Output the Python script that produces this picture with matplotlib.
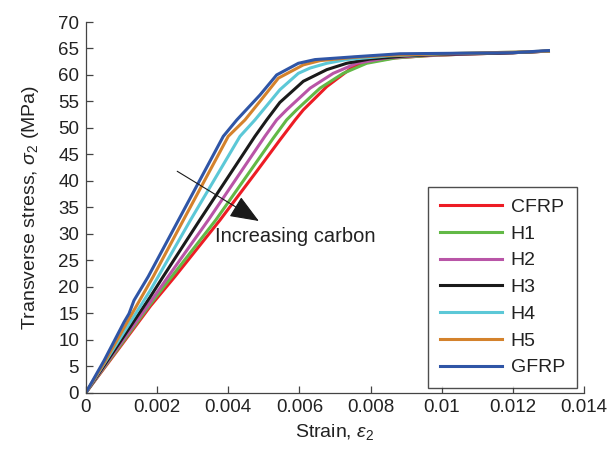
import numpy as np
import matplotlib
matplotlib.use('Agg')
import matplotlib.pyplot as plt

plt.rcParams['font.family'] = ['Liberation Sans', 'DejaVu Sans']
plt.rcParams['mathtext.fontset'] = 'custom'
plt.rcParams['mathtext.rm'] = 'Liberation Sans'
plt.rcParams['mathtext.it'] = 'Liberation Sans:italic'

# Transverse stress-strain curves, strain (-) vs stress (MPa)
cfrp_strain = [0, 0.00088, 0.00182, 0.0025, 0.00377, 0.0048, 0.00545, 0.00588, 0.00611, 0.00677, 0.00752, 0.00798, 0.00864, 0.0095, 0.0105, 0.012, 0.013]
cfrp_stress = [0, 7.9, 16.4, 21.9, 32.6, 41.8, 47.7, 51.5, 53.4, 57.8, 61.6, 62.5, 63.2, 63.6, 63.9, 64.2, 64.5]

h1_strain = [0, 0.0009, 0.0018, 0.00241, 0.00365, 0.00527, 0.00564, 0.00592, 0.00658, 0.00723, 0.00789, 0.0087, 0.0097, 0.011, 0.012, 0.013]
h1_stress = [0, 8.3, 16.6, 21.9, 32.6, 48.1, 51.5, 53.4, 57.5, 60.3, 62.2, 63.2, 63.7, 64.0, 64.2, 64.5]

h2_strain = [0, 0.0009, 0.0018, 0.00231, 0.00344, 0.00503, 0.00536, 0.00564, 0.0063, 0.00695, 0.00761, 0.00845, 0.0095, 0.011, 0.012, 0.013]
h2_stress = [0, 8.6, 17.0, 21.9, 32.6, 48.4, 51.5, 53.4, 57.5, 60.3, 62.2, 63.2, 63.7, 64.0, 64.2, 64.5]

h3_strain = [0, 0.0009, 0.0018, 0.00217, 0.0032, 0.00475, 0.00508, 0.00545, 0.00611, 0.00677, 0.00733, 0.00798, 0.009, 0.010, 0.012, 0.013]
h3_stress = [0, 9.0, 18.0, 21.9, 32.6, 48.4, 51.5, 54.8, 58.8, 61.0, 62.2, 63.0, 63.6, 63.9, 64.2, 64.5]

h4_strain = [0, 0.0009, 0.0018, 0.00203, 0.00294, 0.00433, 0.00475, 0.00545, 0.00597, 0.0063, 0.00677, 0.00733, 0.0085, 0.010, 0.012, 0.013]
h4_stress = [0, 9.6, 19.2, 21.9, 32.6, 48.4, 51.5, 57.2, 60.3, 61.3, 62.2, 62.9, 63.6, 64.0, 64.3, 64.5]

h5_strain = [0, 0.0005, 0.0011, 0.00189, 0.00274, 0.004, 0.00447, 0.00489, 0.00541, 0.00611, 0.00658, 0.0075, 0.0085, 0.010, 0.012, 0.013]
h5_stress = [0, 5.5, 12.6, 21.9, 32.6, 48.4, 51.5, 55.0, 59.4, 61.9, 62.7, 63.3, 63.7, 64.0, 64.3, 64.5]

gfrp_strain = [0, 0.00051, 0.00107, 0.00121, 0.00135, 0.00175, 0.00386, 0.00424, 0.00489, 0.00536, 0.00597, 0.00644, 0.0077, 0.00883, 0.0105, 0.012, 0.013]
gfrp_stress = [0, 6.05, 13.3, 14.9, 17.4, 21.9, 48.4, 51.5, 56.2, 60.0, 62.2, 62.9, 63.5, 64.0, 64.1, 64.2, 64.6]

labels = ['CFRP', 'H1', 'H2', 'H3', 'H4', 'H5', 'GFRP']
colors = ['#ED1C24', '#62B946', '#B955A7', '#1A1A1A', '#5CC8D7', '#D4822C', '#2F55A6']
curves = [
    (cfrp_strain, cfrp_stress),
    (h1_strain, h1_stress),
    (h2_strain, h2_stress),
    (h3_strain, h3_stress),
    (h4_strain, h4_stress),
    (h5_strain, h5_stress),
    (gfrp_strain, gfrp_stress),
]

fig = plt.figure(figsize=(6.08, 4.49), dpi=100)
ax = fig.add_axes([0.1414, 0.1258, 0.8191, 0.8252])

for (x, y), lab, col in zip(curves, labels, colors):
    ax.plot(x, y, color=col, lw=2.2, label=lab, solid_joinstyle='round')

ax.set_xlim(0, 0.014)
ax.set_ylim(0, 70)
ax.set_xticks(np.arange(0, 0.0141, 0.002))
ax.set_xticklabels(['0', '0.002', '0.004', '0.006', '0.008', '0.01', '0.012', '0.014'])
ax.set_yticks(np.arange(0, 71, 5))

for side in ['top', 'right']:
    ax.spines[side].set_visible(False)
for side in ['left', 'bottom']:
    ax.spines[side].set_color('#444444')
    ax.spines[side].set_linewidth(0.9)
ax.tick_params(direction='in', length=5, width=0.9, color='#444444',
               labelsize=13.5, labelcolor='#222222', pad=5)

ax.set_xlabel(r'Strain, $\varepsilon_2$', fontsize=14, color='#222222', labelpad=4)
ax.set_ylabel(r'Transverse stress, $\sigma_2$ (MPa)', fontsize=14, color='#222222', labelpad=12)

# trend arrow across the family of curves
ax.annotate('', xy=(0.00486, 32.4), xytext=(0.002565, 41.8),
            arrowprops=dict(arrowstyle='-|>,head_length=0.7,head_width=0.28',
                            mutation_scale=26, lw=0.8,
                            color='#1a1a1a', shrinkA=0, shrinkB=0))
ax.text(0.00364, 29.5, 'Increasing carbon', fontsize=14.5, color='#222222',
        va='center', ha='left')

leg = ax.legend(loc='lower right', bbox_to_anchor=(0.985, 0.012), fontsize=14,
                frameon=True, fancybox=False, edgecolor='#222222',
                handlelength=3.2, labelspacing=0.47, borderpad=0.6,
                handletextpad=0.45, borderaxespad=0)
leg.get_frame().set_linewidth(1.0)
for t in leg.get_texts():
    t.set_color('#222222')

fig.savefig('out.png', dpi=100)
